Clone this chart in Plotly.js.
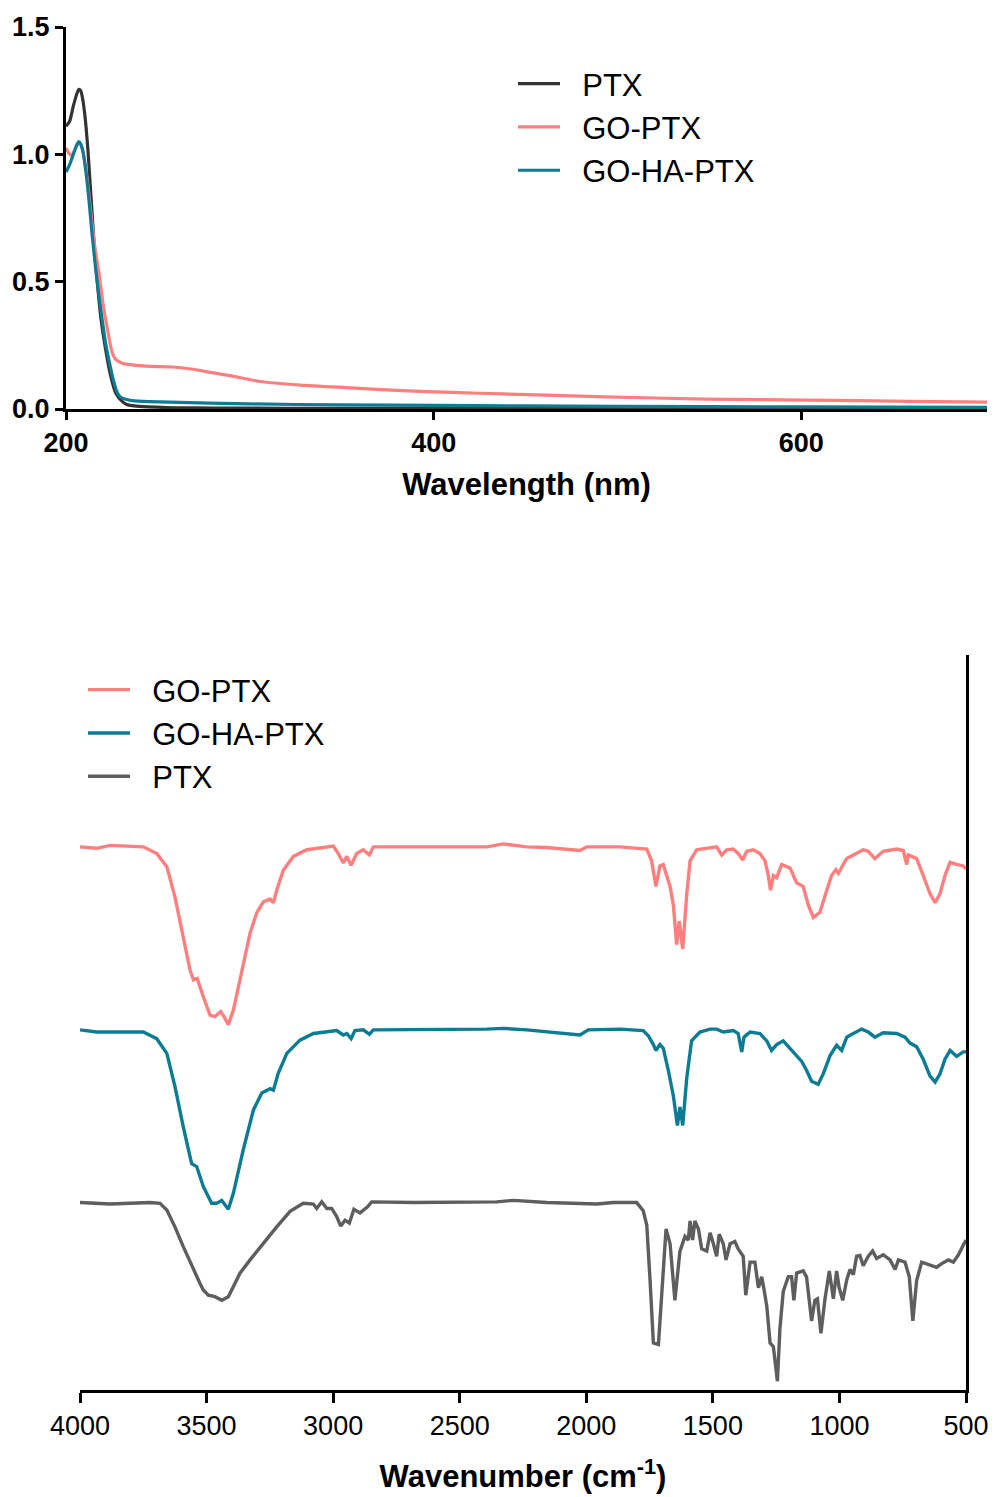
<!DOCTYPE html>
<html><head><meta charset="utf-8">
<script src="https://cdn.plot.ly/plotly-3.0.1.min.js"></script>
<style>html,body{margin:0;padding:0;background:#fff}#chart{width:994px;height:1497px}</style>
</head><body><div id="chart"></div>
<script>
// ---------- UV-Vis (top) ----------
const uvWavelengthPtx = [200,202,204,206,207,208,209,210,211,212,213,214,215,216,217,218.9,221.6,224.4,227.1,230.7,233,236,242,249,260,280,320,400,500,600,701];
const uvAbsPtx        = [1.11,1.13,1.19,1.24,1.255,1.25,1.22,1.17,1.10,1.01,0.90,0.79,0.68,0.58,0.50,0.362,0.232,0.127,0.062,0.029,0.018,0.013,0.009,0.007,0.005,0.004,0.003,0.003,0.003,0.003,0.003];

const uvWavelengthGoPtx = [200,201.5,203,205,207,208,209,210.5,212.5,214,216,218,220,221.6,223.4,225.2,227,230.7,236,247,258,268,280,290,305.6,327.5,355,382.8,410,438,493,548,603.6,659,701];
const uvAbsGoPtx        = [1.025,1.005,0.995,1.02,1.045,1.04,1.02,0.96,0.84,0.74,0.62,0.53,0.42,0.35,0.28,0.22,0.195,0.18,0.173,0.167,0.165,0.157,0.142,0.13,0.108,0.094,0.083,0.072,0.065,0.059,0.048,0.039,0.035,0.030,0.027];

const uvWavelengthGoHaPtx = [200,202,204,206,207,208,209,210.5,212.5,214,216,218,219.7,221.5,223.4,225.5,228,230,232.5,236,245,267,300,350,400,500,600,701];
const uvAbsGoHaPtx        = [0.93,0.96,1.0,1.04,1.05,1.04,1.017,0.95,0.82,0.70,0.56,0.44,0.35,0.26,0.19,0.12,0.063,0.045,0.038,0.033,0.029,0.025,0.02,0.016,0.014,0.01,0.008,0.006];

const uvTickVals = [0,0.5,1,1.5];
const uvTickText = ['0.0','0.5','1.0','1.5'];
const uvXTicks = [200,400,600];

// ---------- FTIR (bottom), transmittance in arbitrary offset units ----------
const irWnGoPtx = [4000,3934,3881,3750,3697,3657,3625,3592,3565,3552,3537,3513,3486,3467,3444,3431,3414,3394,3361,3328,3302,3276,3249,3236,3223,3197,3157,3104,2999,2980,2960,2946,2929,2907,2881,2857,2841,2736,2393,2328,2235,2156,2025,1998,1867,1761,1742,1725,1709,1696,1669,1656,1643,1633,1619,1603,1590,1564,1485,1465,1445,1419,1400,1382,1366,1340,1314,1294,1281,1272,1261,1248,1228,1195,1169,1143,1123,1103,1077,1050,1031,1014,1004,985,971,945,906,886,860,827,774,748,734,728,695,669,642,622,603,583,563,537,511,500];
const irTGoPtx  = [73.9,73.7,74.1,73.9,73.0,71.2,67.1,61.7,57.1,55.8,56.0,53.5,51.0,50.8,51.5,50.8,49.7,51.7,57.1,62.2,64.9,66.4,66.8,66.3,68.0,70.7,72.6,73.5,74.0,73.0,71.7,72.6,71.4,73.0,73.5,72.8,73.9,73.9,73.9,74.3,73.9,73.8,73.4,73.9,73.9,73.6,72.0,68.5,71.3,71.5,68.5,66.0,60.6,63.8,60.0,67.5,72.0,73.5,73.9,72.8,73.5,73.6,73.0,72.1,73.3,73.5,73.0,72.0,70.0,68.0,70.0,69.7,71.5,71.0,69.0,68.5,66.0,64.3,65.0,68.0,70.0,70.8,70.3,71.5,72.3,72.8,73.5,73.3,72.3,73.3,73.6,73.4,71.5,72.8,72.3,70.0,67.5,66.3,67.5,70.0,71.8,71.5,71.3,70.9];

const irWnGoHaPtx = [4000,3934,3750,3697,3657,3625,3592,3559,3539,3513,3480,3460,3440,3414,3394,3355,3315,3282,3249,3236,3217,3183,3131,3078,2986,2960,2946,2929,2914,2881,2857,2841,2393,2328,2235,2091,2025,1992,1867,1775,1755,1735,1725,1709,1696,1676,1656,1640,1630,1619,1603,1584,1551,1511,1485,1459,1419,1400,1386,1377,1353,1314,1287,1268,1248,1222,1182,1149,1130,1110,1084,1064,1037,1011,991,971,945,912,886,860,827,774,741,721,695,669,642,622,603,583,563,537,511,500];
const irTGoHaPtx  = [49.0,48.7,48.7,47.8,45.8,41.3,35.8,30.8,30.4,27.7,25.4,25.4,25.8,24.6,26.8,32.7,38.1,40.4,41.0,40.8,43.1,45.8,47.6,48.5,48.9,48.3,48.5,47.8,48.9,49.0,48.4,49.0,49.1,49.2,49.0,48.6,48.3,49.0,49.1,48.9,48.2,47.0,46.2,47.0,46.5,43.5,40.0,36.0,38.5,36.0,42.5,47.5,48.7,49.1,49.1,48.7,48.9,48.5,46.0,48.0,48.7,48.5,47.5,46.2,47.0,47.5,46.0,44.7,43.5,42.0,41.6,43.0,45.5,46.9,46.2,48.0,48.5,49.1,48.7,48.0,48.6,48.5,48.0,47.2,46.7,45.0,42.7,41.9,43.0,45.0,46.2,45.4,46.0,46.0];

const irWnPtx = [4000,3881,3723,3684,3657,3625,3592,3552,3526,3513,3493,3467,3440,3414,3394,3368,3328,3276,3223,3170,3118,3078,3065,3045,3025,3006,2986,2970,2953,2936,2918,2894,2865,2848,2683,2354,2288,2156,1959,1893,1801,1775,1761,1748,1735,1715,1702,1685,1669,1650,1630,1610,1597,1590,1580,1571,1557,1544,1524,1511,1498,1485,1475,1459,1448,1432,1413,1400,1380,1370,1353,1334,1320,1307,1298,1287,1274,1261,1245,1235,1222,1202,1189,1180,1169,1143,1130,1110,1097,1087,1073,1057,1040,1024,1011,1001,987,971,958,945,932,919,906,886,869,853,827,800,780,767,741,724,710,695,675,636,616,596,570,550,530,511,500];
const irTPtx  = [25.5,25.3,25.5,25.4,24.5,22.2,19.5,16.3,14.5,13.6,12.9,12.7,12.2,12.7,14.1,15.9,17.7,20.0,22.2,24.3,25.4,25.3,24.7,25.6,24.7,24.7,23.6,22.3,23.1,22.7,24.6,24.1,24.9,25.6,25.5,25.6,25.8,25.5,25.3,25.5,25.5,24.4,22.4,14.9,6.4,6.2,12.4,21.9,19.9,12.2,18.9,20.9,20.4,23.0,20.4,23.0,21.9,19.2,18.9,21.4,19.9,18.2,21.2,19.9,17.7,19.9,20.2,19.2,18.2,12.9,17.4,17.4,13.9,15.4,13.7,11.4,6.4,5.9,1.2,8.4,13.4,15.4,15.4,12.2,15.9,16.2,15.4,9.4,12.2,12.4,7.7,12.4,16.2,12.4,16.2,13.9,12.2,15.0,16.4,15.7,18.2,18.3,16.9,18.2,18.9,17.9,18.4,17.7,16.4,17.7,17.4,15.4,9.4,14.9,17.4,16.9,16.7,17.2,17.7,17.4,18.4,19.7,20.4];

const irXTicks = [4000,3500,3000,2500,2000,1500,1000,500];

// ---------- styles ----------
const C_PTX_UV = '#333333';
const C_GOPTX = '#FF7F7F';
const C_GOHA = '#0C7C94';
const C_PTX_IR = '#5E5E5E';
const FONT = 'Liberation Sans, Arial, Helvetica, sans-serif';
const W = 994, H = 1497;
const fx = p => p / W;
const fy = p => 1 - p / H;
const GAP = '\u00a0\u00a0';

const traces = [
  {x: uvWavelengthPtx, y: uvAbsPtx, name: GAP + 'PTX', type: 'scatter', mode: 'lines', xaxis: 'x', yaxis: 'y', legend: 'legend',
   line: {color: C_PTX_UV, width: 3.2, shape: 'spline', smoothing: 0.6}},
  {x: uvWavelengthGoPtx, y: uvAbsGoPtx, name: GAP + 'GO-PTX', type: 'scatter', mode: 'lines', xaxis: 'x', yaxis: 'y', legend: 'legend',
   line: {color: C_GOPTX, width: 3.2, shape: 'spline', smoothing: 0.6}},
  {x: uvWavelengthGoHaPtx, y: uvAbsGoHaPtx, name: GAP + 'GO-HA-PTX', type: 'scatter', mode: 'lines', xaxis: 'x', yaxis: 'y', legend: 'legend',
   line: {color: C_GOHA, width: 3.2, shape: 'spline', smoothing: 0.6}},
  {x: irWnGoPtx, y: irTGoPtx, name: GAP + 'GO-PTX', type: 'scatter', mode: 'lines', xaxis: 'x2', yaxis: 'y2', legend: 'legend2',
   line: {color: C_GOPTX, width: 3.4}},
  {x: irWnGoHaPtx, y: irTGoHaPtx, name: GAP + 'GO-HA-PTX', type: 'scatter', mode: 'lines', xaxis: 'x2', yaxis: 'y2', legend: 'legend2',
   line: {color: C_GOHA, width: 3.4}},
  {x: irWnPtx, y: irTPtx, name: GAP + 'PTX', type: 'scatter', mode: 'lines', xaxis: 'x2', yaxis: 'y2', legend: 'legend2',
   line: {color: C_PTX_IR, width: 3.4}}
];

const axisCommon = {showgrid: false, zeroline: false, showline: true, linecolor: '#000', linewidth: 3,
  ticks: 'outside', tickcolor: '#000', tickwidth: 3, fixedrange: true};

const layout = {
  width: W, height: H,
  margin: {l: 0, r: 0, t: 0, b: 0},
  paper_bgcolor: '#ffffff', plot_bgcolor: 'rgba(0,0,0,0)',
  font: {family: FONT, color: '#000'},
  showlegend: true,
  xaxis: Object.assign({}, axisCommon, {
    domain: [fx(66), fx(987)], range: [200, 701], anchor: 'y',
    tickvals: uvXTicks, ticklen: 8,
    tickfont: {family: FONT, size: 27, weight: 'bold', color: '#000'},
    title: {text: 'Wavelength (nm)', font: {family: FONT, size: 31, weight: 'bold', color: '#000'}, standoff: 16}
  }),
  yaxis: Object.assign({}, axisCommon, {
    domain: [fy(409), fy(27)], range: [0, 1.5], anchor: 'x',
    tickvals: uvTickVals, ticktext: uvTickText, ticklen: 8,
    tickfont: {family: FONT, size: 27, weight: 'bold', color: '#000'}
  }),
  xaxis2: Object.assign({}, axisCommon, {
    domain: [fx(80), fx(966)], range: [4000, 500], anchor: 'y2',
    tickvals: irXTicks, ticklen: 10,
    tickfont: {family: FONT, size: 27, color: '#000'},
    title: {text: 'Wavenumber (cm<sup>-1</sup>)', font: {family: FONT, size: 31, weight: 'bold', color: '#000'}, standoff: 25}
  }),
  yaxis2: {
    domain: [fy(1390), fy(655)], range: [0, 100], anchor: 'x2', side: 'right',
    showgrid: false, zeroline: false, showline: true, linecolor: '#000', linewidth: 3,
    ticks: '', showticklabels: false, fixedrange: true
  },
  legend: {x: fx(513), y: fy(57), xanchor: 'left', yanchor: 'top', bgcolor: 'rgba(0,0,0,0)', borderwidth: 0,
    font: {family: FONT, size: 31, color: '#000'}, itemwidth: 42, tracegroupgap: 0},
  legend2: {x: fx(83), y: fy(663), xanchor: 'left', yanchor: 'top', bgcolor: 'rgba(0,0,0,0)', borderwidth: 0,
    font: {family: FONT, size: 31, color: '#000'}, itemwidth: 42, tracegroupgap: 0}
};

Plotly.newPlot('chart', traces, layout, {displayModeBar: false, staticPlot: true});
</script></body></html>
